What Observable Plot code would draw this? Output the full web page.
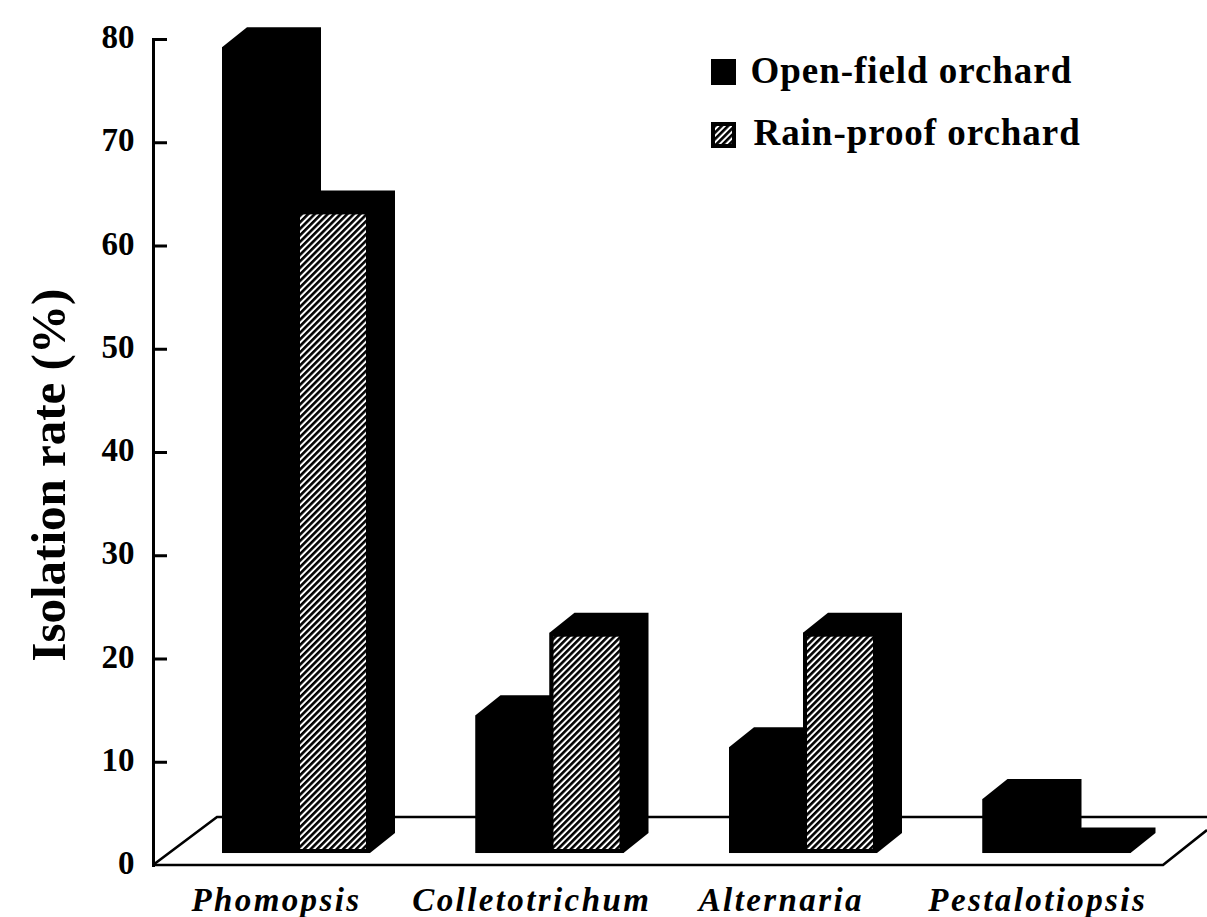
<!DOCTYPE html>
<html>
<head>
<meta charset="utf-8">
<script src="https://cdn.jsdelivr.net/npm/d3@7"></script>
<script src="https://cdn.jsdelivr.net/npm/@observablehq/plot@0.6"></script>
<style>
html,body{margin:0;padding:0;background:#fff}
svg{display:block}
.xlab text{letter-spacing:2.4px}
.leg text{letter-spacing:0.95px}
</style>
</head>
<body>
<div id="chart"></div>
<script>
const categories = ["Phomopsis", "Colletotrichum", "Alternaria", "Pestalotiopsis"];
const seriesNames = ["Open-field orchard", "Rain-proof orchard"];
const openField = [79.2, 14.5, 11.4, 6.4];
const rainProof = [63.4, 22.5, 22.5, 1.7];
const yTicks = [0, 10, 20, 30, 40, 50, 60, 70, 80];
const yLabel = "Isolation rate (%)";
const floorFront = 1.16;   // front edge of the 3D floor on the y axis
const floorBack = 4.65;    // back edge of the 3D floor on the y axis

// layout
const W = 1207, H = 917, barW = 74, depthX = 25, depthY = 20;
const labelShift = [-72.75, -71, -75, -72];
const band = 253.5;

const rows = categories.flatMap((c, i) => [
  {category: c, series: 0, value: openField[i]},
  {category: c, series: 1, value: rainProof[i]}
]);

const defs = () => {
  const d = d3.create("svg:defs");
  const p = d.append("pattern").attr("id", "hatch").attr("patternUnits", "userSpaceOnUse")
    .attr("width", 4.6).attr("height", 4.6).attr("patternTransform", "rotate(45)");
  p.append("rect").attr("width", 4.6).attr("height", 4.6).attr("fill", "#fff");
  p.append("rect").attr("width", 2.6).attr("height", 4.6).attr("fill", "#000");
  return d.node();
};

// floor outline, from the y scale and plot frame
const floor = (index, {y}, values, {marginLeft, width}) => {
  const y0 = y(0), yb = y(floorBack);
  const g = d3.create("svg:g").attr("fill", "none").attr("stroke", "#000").attr("stroke-width", 2.6);
  g.append("path").attr("d", `M${marginLeft},${y0}L${marginLeft + 64},${yb}L${width},${yb}`);
  g.append("path").attr("d", `M${marginLeft},${y0}L${width - 44},${y0}L${width},${y0 - 35}`);
  return g.node();
};

// extruded black silhouette (top + side faces) of every bar
const extrusion = (index, {x, y}) => {
  const g = d3.create("svg:g").attr("fill", "#000");
  for (const r of rows) {
    const x0 = x(r.category) + r.series * barW, x1 = x0 + barW;
    const yt = y(r.value), yb = y(floorFront);
    g.append("path").attr("d",
      `M${x0},${yb}L${x0},${yt}L${x0 + depthX},${yt - depthY}L${x1 + depthX},${yt - depthY}L${x1 + depthX},${yb - depthY}L${x1},${yb}Z`);
  }
  return g.node();
};

const legendMark = () => {
  const g = d3.create("svg:g");
  g.append("rect").attr("x", 711).attr("y", 59).attr("width", 25).attr("height", 26).attr("fill", "#000");
  g.append("rect").attr("x", 713).attr("y", 124).attr("width", 21).attr("height", 22)
    .attr("fill", "url(#hatch)").attr("stroke", "#000").attr("stroke-width", 4);
  return g.node();
};

const plot = Plot.plot({
  width: W,
  height: H,
  marginLeft: 153,
  marginRight: 0,
  marginTop: 39,
  marginBottom: 52,
  style: {fontFamily: "'Liberation Serif', serif", color: "#000", background: "#fff"},
  x: {type: "band", domain: categories, range: [222, 222 + band * 4], padding: 0, round: false, axis: null},
  y: {domain: [0, 80], nice: false, axis: null},
  marks: [
    defs,
    floor,
    Plot.frame({anchor: "left", stroke: "#000", strokeWidth: 3}),
    Plot.ruleY(yTicks.slice(1), {stroke: "#000", strokeWidth: 3, insetRight: W - 153 - 14}),
    Plot.axisY(yTicks, {tickSize: 0, tickPadding: 19, fontSize: 33, fontWeight: "bold", dy: -2, label: null}),
    Plot.text([yLabel], {frameAnchor: "left", y: [37.8], rotate: -90, dx: -104, fontSize: 49, fontWeight: "bold", textAnchor: "middle"}),
    extrusion,
    Plot.barY(rows.filter(r => r.series === 0), {x: "category", y1: () => floorFront, y2: "value", fill: "#000", insetLeft: 0, insetRight: band - barW}),
    Plot.barY(rows.filter(r => r.series === 1), {x: "category", y1: () => floorFront, y2: "value", fill: "url(#hatch)", stroke: "#000", strokeWidth: 4, insetLeft: barW + 2, insetRight: band - 2 * barW + 2, insetTop: 2, insetBottom: 2}),
    ...categories.map((c, i) => Plot.text([c], {
      x: () => c, frameAnchor: "bottom", lineAnchor: "bottom", dy: 45, dx: labelShift[i],
      fontSize: 33, fontWeight: "bold", fontStyle: "italic", className: "xlab"
    })),
    legendMark,
    Plot.text([seriesNames[0]], {frameAnchor: "top-left", dx: 750 - 153, dy: 82 - 39, lineAnchor: "bottom", textAnchor: "start", fontSize: 37, fontWeight: "bold", className: "leg"}),
    Plot.text([seriesNames[1]], {frameAnchor: "top-left", dx: 753 - 153, dy: 144 - 39, lineAnchor: "bottom", textAnchor: "start", fontSize: 37, fontWeight: "bold", className: "leg"})
  ]
});
document.getElementById("chart").appendChild(plot);
</script>
</body>
</html>
